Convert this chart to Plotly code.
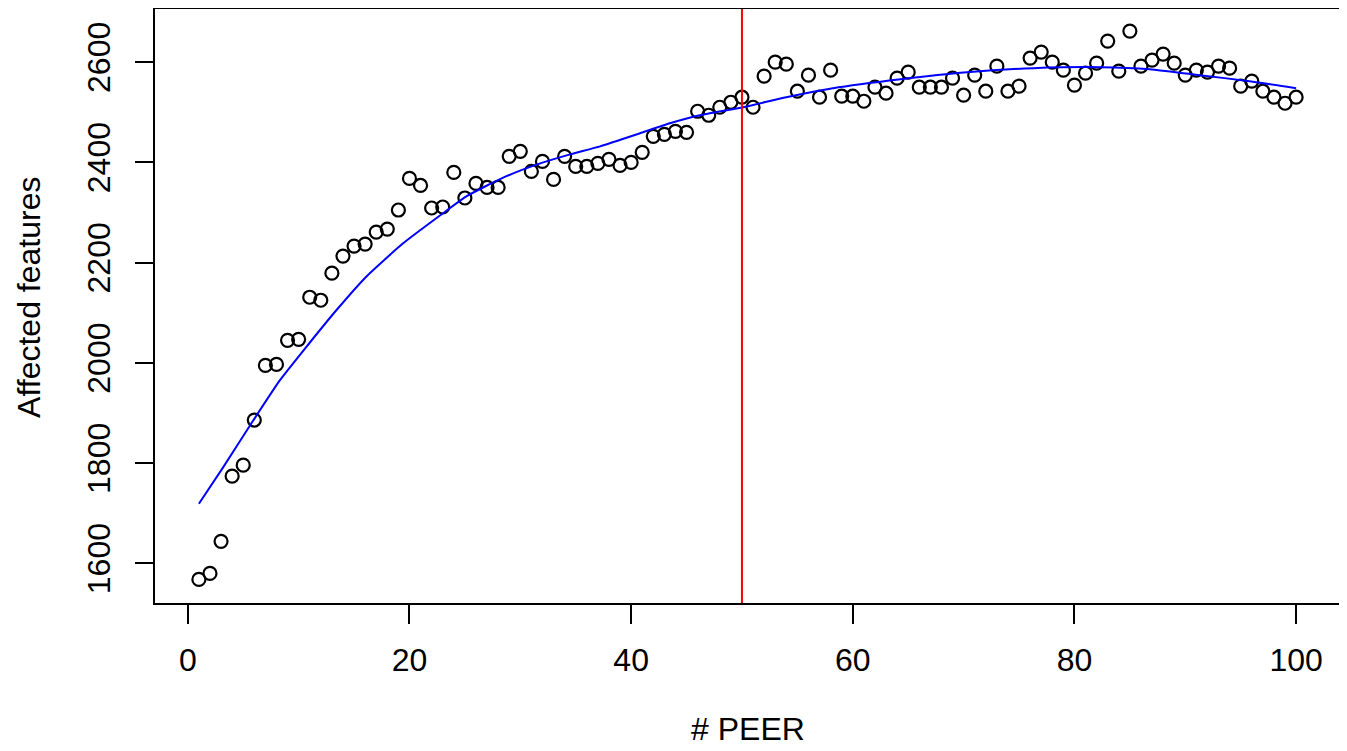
import plotly.graph_objects as go

# Observed points: number of PEER factors vs affected features
peer = list(range(1, 101))
affected = [
    1568, 1580, 1644, 1774, 1796, 1886, 1995, 1997, 2045, 2047,
    2131, 2125, 2179, 2213, 2233, 2237, 2261, 2267, 2305, 2368,
    2354, 2309, 2311, 2380, 2329, 2358, 2350, 2350, 2412, 2422,
    2382, 2402, 2366, 2412, 2392, 2392, 2398, 2406, 2394, 2400,
    2420, 2452, 2456, 2462, 2460, 2502, 2494, 2510, 2520, 2530,
    2510, 2572, 2600, 2596, 2542, 2574, 2530, 2584, 2532, 2532,
    2522, 2550, 2538, 2568, 2580, 2550, 2550, 2550, 2568, 2534,
    2574, 2542, 2592, 2542, 2552, 2608, 2620, 2600, 2584, 2554,
    2578, 2598, 2642, 2582, 2662, 2592, 2604, 2616, 2598, 2574,
    2584, 2580, 2592, 2588, 2552, 2562, 2542, 2530, 2518, 2530,
]

# Smoothed trend (blue)
trend_x = [1, 3.2, 5.9, 8.3, 10.7, 13.4, 16.1, 19.4, 23.0, 25.2,
           28.5, 31.8, 34.5, 37.2, 40.8, 43.5, 46.2, 50.1, 54, 58.2, 64.3,
           70.3, 76.3, 82.3, 86.8, 91.3, 95.8, 100]
trend_y = [1719, 1792, 1885, 1965, 2032, 2105, 2172, 2238, 2298, 2333,
           2370, 2398, 2416, 2432, 2458, 2478, 2494, 2510, 2530,
           2548, 2566, 2580, 2588, 2590, 2586, 2574, 2562, 2548]

cutoff = [50]
x_ticks = [0, 20, 40, 60, 80, 100]
y_ticks = [1600, 1800, 2000, 2200, 2400, 2600]

FONT = "Liberation Sans, Arial, Helvetica, sans-serif"
FS = 32

fig = go.Figure()
fig.add_trace(go.Scatter(
    x=peer, y=affected, mode="markers",
    marker=dict(symbol="circle-open", size=13, color="black",
                line=dict(color="black", width=2.2)),
    showlegend=False,
))
fig.add_trace(go.Scatter(
    x=trend_x, y=trend_y, mode="lines",
    line=dict(color="#0000FF", width=2, shape="spline", smoothing=0.5),
    hoverinfo="skip", showlegend=False,
))
for c in cutoff:
    fig.add_vline(x=c, line=dict(color="#FF0000", width=2), layer="above")

# The page body has an 8px default margin, so the figure is 8px smaller
fig.update_layout(
    width=1339, height=743,
    margin=dict(l=147, r=7, t=1, b=148, autoexpand=False),
    paper_bgcolor="white", plot_bgcolor="white",
    font=dict(family=FONT, size=FS, color="black"),
    showlegend=False,
)
fig.update_xaxes(
    range=[-2.96, 103.96], tickmode="array", tickvals=x_ticks,
    ticks="outside", ticklen=19, tickwidth=2, tickcolor="black",
    showline=True, linecolor="black", linewidth=2, mirror=True,
    showgrid=False, zeroline=False, automargin=False,
    ticklabelstandoff=9,
    tickfont=dict(family=FONT, size=FS, color="black"),
)
fig.update_yaxes(
    range=[1521, 2706], tickmode="array", tickvals=y_ticks,
    ticks="outside", ticklen=18, tickwidth=2, tickcolor="black",
    showline=True, linecolor="black", linewidth=2, mirror=True,
    showgrid=False, zeroline=False, tickangle=-90, automargin=False,
    ticklabelstandoff=12,
    tickfont=dict(family=FONT, size=FS, color="black"),
)

# Axis titles
fig.add_annotation(text="# PEER", xref="paper", yref="paper", x=0.5, y=-0.212,
                   xanchor="center", yanchor="middle", showarrow=False,
                   font=dict(family=FONT, size=FS, color="black"))
fig.add_annotation(text="Affected features", xref="paper", yref="paper",
                   x=-0.107, y=0.514, textangle=-90,
                   xanchor="center", yanchor="middle", showarrow=False,
                   font=dict(family=FONT, size=FS, color="black"))

fig.write_html("out.html")
